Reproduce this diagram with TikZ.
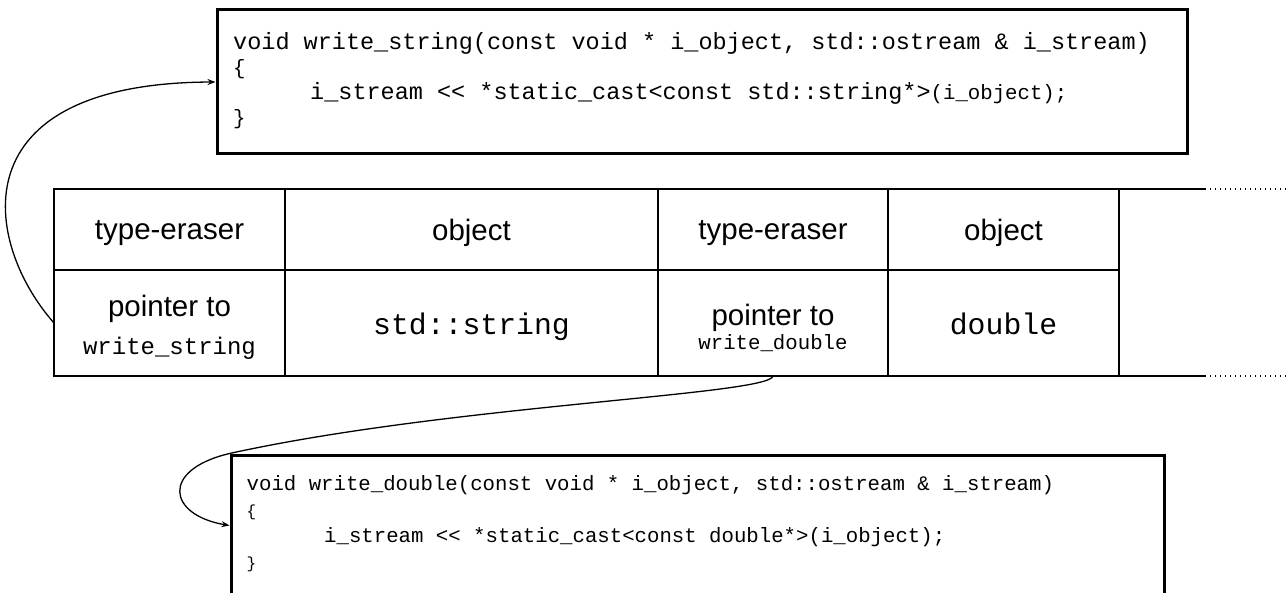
\documentclass[tikz,border=0pt]{standalone}
\usepackage{fontspec}
\setsansfont{Liberation Sans}
\setmonofont{Liberation Mono}
\usetikzlibrary{arrows.meta}

\tikzset{
  cell/.style={draw, line width=1.5pt, inner sep=0pt, outer sep=0pt},
  toprow/.style={minimum height=81pt},
  botrow/.style={minimum height=106pt},
  codebox/.style={draw, line width=3pt, inner sep=0pt},
  label/.style={font=\sffamily\fontsize{29.5}{34}\selectfont, anchor=base, inner sep=0pt},
  mono/.style={font=\ttfamily\fontsize{#1}{#1}\selectfont, inner sep=0pt},
  codeline/.style={anchor=base west},
  link/.style={line width=1.3pt, -{Stealth[length=8pt,width=6pt]}},
  rule/.style={line width=1.5pt},
  dots/.style={line width=1.5pt, dash pattern=on 1.3pt off 3.7pt},
}

\begin{document}
\begin{tikzpicture}[x=1pt, y=-1pt]
\useasboundingbox (0,0) rectangle (1288,593);
\clip (0,0) rectangle (1288,593);

% code of write_string
\node[codebox, minimum width=970pt, minimum height=144pt] (fs) at (702,82) {};
\node[mono=23.5, codeline] (fs1) at (233,50) {void write\_string(const void * i\_object, std::ostream \& i\_stream)};
\node[mono=20.7, codeline] (fs2) at (233,75) {\{};
\node[mono=23.5, codeline] (fs3) at (310,100) {i\_stream << *static\_cast<const std::string*>{\fontsize{20.7}{20.7}\selectfont(i\_object);}};
\node[mono=20.7, codeline] (fs4) at (233,125) {\}};

% table of type-erasers and objects
\node[cell, toprow, minimum width=231pt] (c11) at (169.5,229.5) {};
\node[cell, toprow, minimum width=373pt] (c12) at (471.5,229.5) {};
\node[cell, toprow, minimum width=230pt] (c13) at (773,229.5) {};
\node[cell, toprow, minimum width=231pt] (c14) at (1003.5,229.5) {};
\node[cell, botrow, minimum width=231pt] (c21) at (169.5,323) {};
\node[cell, botrow, minimum width=373pt] (c22) at (471.5,323) {};
\node[cell, botrow, minimum width=230pt] (c23) at (773,323) {};
\node[cell, botrow, minimum width=231pt] (c24) at (1003.5,323) {};

\draw[rule] (c14.north east) -- (1205,189) coordinate (tend);
\draw[rule] (c24.south east) -- (1205,376) coordinate (bend);
\draw[dots] (tend) -- (1288,189);
\draw[dots] (bend) -- (1288,376);

\node[label] (t11) at (169.5,240) {type-eraser};
\node[label] (t12) at (471.5,241) {object};
\node[label] (t13) at (773,240) {type-eraser};
\node[label] (t14) at (1003.5,241) {object};

\node[label] (t21) at (169.5,317) {pointer to};
\node[mono=24, anchor=base] (t21b) at (169.5,355) {write\_string};
\node[mono=29.8, anchor=base] (t22) at (471.5,335) {std::string};
\node[label] (t23) at (773,326) {pointer to};
\node[mono=20.7, anchor=base] (t23b) at (773,350) {write\_double};
\node[mono=29.8, anchor=base] (t24) at (1003.5,335) {double};

% code of write_double
\node[codebox, minimum width=933pt, minimum height=200pt] (fd) at (697.5,555) {};
\node[mono=20.7, codeline] (fd1) at (246.5,490) {void write\_double(const void * i\_object, std::ostream \& i\_stream)};
\node[mono=16, codeline] (fd2) at (246.5,516) {\{};
\node[mono=20.7, codeline] (fd3) at (324,542) {i\_stream << *static\_cast<const double*>(i\_object);};
\node[mono=16, codeline] (fd4) at (246.5,568) {\}};

% pointers to the functions
\draw[link] (c21.west) .. controls (-17,242.5) and (-43,83) .. (fs.west);
\draw[link] (c23.south) .. controls (770,395) and (450,405) .. (fd.north west)
  .. controls (160,470) and (168,515) .. ([yshift=-72pt]fd.north west);
\end{tikzpicture}
\end{document}
